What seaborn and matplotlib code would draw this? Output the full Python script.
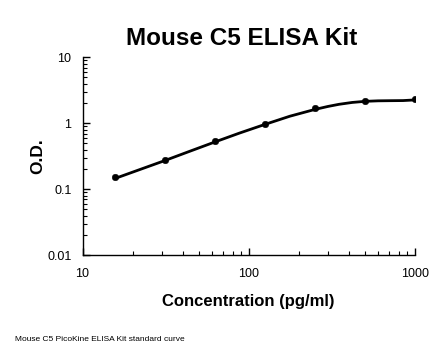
import numpy as np
import pandas as pd
import matplotlib
matplotlib.use("Agg")
import matplotlib.pyplot as plt
import seaborn as sns

# Standards
conc = [15.6, 31.25, 62.5, 125, 250, 500, 1000]
od = [0.153, 0.282, 0.537, 0.99, 1.68, 2.2, 2.34]

# Fitted curve
curve_conc = [15.6, 22, 31.25, 44, 62.5, 88, 125, 177, 250, 300, 350, 420, 500, 600, 700, 850, 1000]
curve_od = [0.145, 0.198, 0.272, 0.375, 0.52, 0.71, 0.96, 1.28, 1.62, 1.80, 1.94, 2.07, 2.15, 2.19, 2.2, 2.21, 2.26]

sns.set_style("white")
plt.rcParams['font.family'] = ['Liberation Sans', 'DejaVu Sans']
plt.rcParams['text.color'] = 'black'
plt.rcParams['axes.labelcolor'] = 'black'

df_pts = pd.DataFrame({'conc': conc, 'od': od})
df_fit = pd.DataFrame({'conc': curve_conc, 'od': curve_od})

fig = plt.figure(figsize=(4.46, 3.56), dpi=100)
ax = fig.add_axes([0.185, 0.283, 0.745, 0.556])

sns.lineplot(data=df_fit, x='conc', y='od', color='black', linewidth=2.0, ax=ax)
sns.scatterplot(data=df_pts, x='conc', y='od', color='black', s=22, edgecolor='black', zorder=3, ax=ax)

ax.set_xscale('log')
ax.set_yscale('log')
ax.set_xlim(10, 1000)
ax.set_ylim(0.01, 10)
ax.set_xticks([10, 100, 1000])
ax.set_xticklabels(['10', '100', '1000'])
ax.set_yticks([0.01, 0.1, 1, 10])
ax.set_yticklabels(['0.01', '0.1', '1', '10'])

for side in ['top', 'right']:
    ax.spines[side].set_visible(False)
for side in ['left', 'bottom']:
    ax.spines[side].set_color('black')
    ax.spines[side].set_linewidth(1.0)

ax.tick_params(which='major', direction='in', length=5, width=1, colors='black', labelsize=9)
ax.tick_params(axis='x', which='major', pad=9)
ax.tick_params(axis='y', which='major', pad=8)
ax.tick_params(which='minor', direction='in', length=3, width=0.8, colors='black')
ax.tick_params(axis='x', which='both', bottom=True)
ax.tick_params(axis='y', which='both', left=True)

ax.set_xlabel('Concentration (pg/ml)', fontsize=12, fontweight='bold', labelpad=10)
ax.set_ylabel('O.D.', fontsize=12.5, fontweight='bold', labelpad=1)
ax.set_title('Mouse C5 ELISA Kit', fontsize=17.5, fontweight='bold', pad=9, x=0.48)

fig.text(0.034, 0.042, 'Mouse C5 PicoKine ELISA Kit standard curve', fontsize=6, color='black')

fig.savefig('out.png', dpi=100, facecolor='white')
